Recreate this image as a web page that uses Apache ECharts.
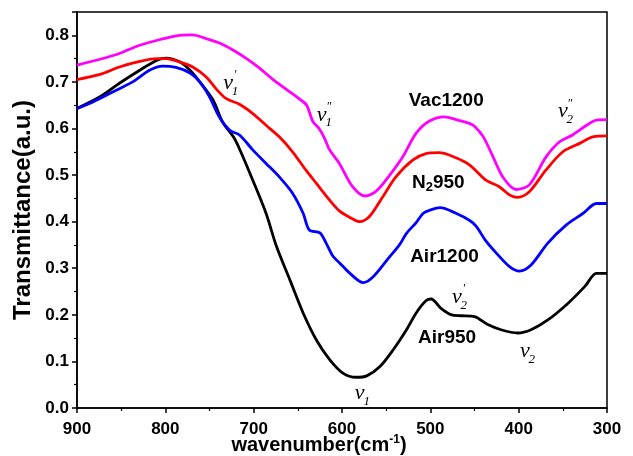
<!DOCTYPE html>
<html><head><meta charset="utf-8">
<script src="https://cdn.jsdelivr.net/npm/echarts@6/dist/echarts.min.js"></script>
<style>html,body{margin:0;padding:0;background:#fff}#c{width:633px;height:456px}</style>
</head><body><div id="c"></div>
<script>
// ---- data (wavenumber cm-1, transmittance a.u.) ----
const air950X = [900,874,852,829,810,799,784,772,761,746,735,723,716,701,686,674,659,644,629,614,599,584,572,557,542,527,516,505,499,488,476,465,450,435,420,401,386,367,344,325,312,300];
const air950Y = [0.643,0.668,0.697,0.725,0.746,0.751,0.743,0.725,0.700,0.661,0.613,0.582,0.556,0.489,0.418,0.346,0.275,0.204,0.146,0.104,0.075,0.066,0.069,0.089,0.125,0.168,0.204,0.230,0.234,0.214,0.200,0.198,0.196,0.179,0.168,0.161,0.168,0.189,0.225,0.261,0.289,0.289];

const air1200X = [900,882,859,837,818,803,788,772,761,750,739,727,716,701,686,671,656,644,637,625,618,610,603,591,576,565,548,535,527,516,508,500,489,471,455,448,438,425,410,399,386,367,346,327,312,300];
const air1200Y = [0.643,0.657,0.679,0.700,0.725,0.734,0.731,0.719,0.700,0.668,0.625,0.596,0.586,0.554,0.525,0.496,0.461,0.418,0.382,0.376,0.354,0.325,0.312,0.289,0.269,0.281,0.320,0.350,0.375,0.398,0.418,0.425,0.430,0.418,0.402,0.390,0.361,0.332,0.303,0.294,0.307,0.354,0.393,0.418,0.439,0.439];

const n2950X = [900,874,852,829,810,799,784,769,754,742,731,716,701,686,671,656,641,629,614,603,591,580,569,554,539,520,505,490,471,455,437,422,410,401,388,369,350,331,316,300];
const n2950Y = [0.705,0.716,0.732,0.744,0.750,0.750,0.743,0.732,0.711,0.684,0.664,0.652,0.632,0.607,0.582,0.550,0.511,0.482,0.446,0.423,0.409,0.400,0.411,0.453,0.496,0.532,0.546,0.548,0.537,0.521,0.489,0.475,0.457,0.452,0.464,0.511,0.550,0.568,0.582,0.584];

const vac1200X = [900,875,852,830,806,784,769,754,738,723,708,693,678,663,648,640,633,626,620,614,603,588,574,561,546,531,516,501,484,469,456,450,440,429,418,403,388,369,354,339,323,312,300];
const vac1200Y = [0.736,0.748,0.761,0.778,0.791,0.800,0.801,0.793,0.783,0.768,0.750,0.729,0.705,0.684,0.663,0.650,0.615,0.600,0.580,0.554,0.525,0.475,0.455,0.466,0.500,0.540,0.590,0.616,0.625,0.618,0.611,0.605,0.582,0.539,0.496,0.469,0.479,0.539,0.571,0.586,0.607,0.618,0.619];

const xTickLabels = [900,800,700,600,500,400,300];
const yTickLabels = ['0.0','0.1','0.2','0.3','0.4','0.5','0.6','0.7','0.8'];

// series labels: [text, wavenumber, transmittance]
const seriesLabels = [
  ['{b|Vac1200}', 482, 0.659],
  ['{b|N}{s|2}{b|950}', 491, 0.483],
  ['{b|Air1200}', 484, 0.325],
  ['{b|Air950}', 481, 0.150]
];
// band labels: [subscript, prime mark, wavenumber, transmittance]
const bandLabels = [
  ['1', '\u2032', 729, 0.697],
  ['1', '\u2033', 623, 0.629],
  ['2', '\u2033', 350, 0.636],
  ['2', '\u2032', 470, 0.238],
  ['1', '', 580, 0.032],
  ['2', '', 393, 0.121]
];

const zip = (xs, ys) => xs.map((x, i) => [x, ys[i]]);
const FF = '"Liberation Sans", Arial, sans-serif';
const SERIF = '"Liberation Serif", "Times New Roman", serif';

const chart = echarts.init(document.getElementById('c'), null, {renderer: 'canvas'});
const axisLine = {show: true, lineStyle: {color: '#000', width: 1.5}};
const mkLine = (name, xs, ys, color) => ({
  name, type: 'line', data: zip(xs, ys), showSymbol: false, smooth: 0.3,
  lineStyle: {color, width: 2.8}, itemStyle: {color}, xAxisIndex: 0, yAxisIndex: 0, z: 3
});

chart.setOption({
  animation: false,
  backgroundColor: '#fff',
  grid: {left: 77, right: 26, top: 12, bottom: 48, containLabel: false, outerBoundsMode: 'none',
    show: true, borderColor: '#000', borderWidth: 1.5, backgroundColor: 'transparent'},
  xAxis: {
    type: 'value', min: 300, max: 900, interval: 100, inverse: true, position: 'bottom',
    axisLine, splitLine: {show: false},
    axisTick: {show: true, inside: false, length: 5, lineStyle: {color: '#000', width: 1.5}},
    minorTick: {show: true, splitNumber: 2, length: 3, lineStyle: {color: '#000', width: 1.2}},
    minorSplitLine: {show: false},
    axisLabel: {color: '#000', fontWeight: 'bold', fontSize: 17, fontFamily: FF, margin: 13,
      formatter: v => xTickLabels.includes(v) ? String(v) : ''},
    name: '{a|wavenumber(cm}{s|-1}{a|)}', nameLocation: 'middle', nameGap: 26, nameMoveOverlap: false,
    nameTextStyle: {padding: [0, 46, 0, 0], rich: {
      a: {fontSize: 20, fontWeight: 'bold', fontFamily: FF, color: '#000', lineHeight: 22},
      s: {fontSize: 12, fontWeight: 'bold', fontFamily: FF, color: '#000', verticalAlign: 'top', lineHeight: 22, padding: [0, 0, 8, 0]}
    }}
  },
  yAxis: {
    type: 'value', min: 0, max: 0.85, interval: 0.1,
    axisLine, splitLine: {show: false},
    axisTick: {show: true, inside: false, length: 5, lineStyle: {color: '#000', width: 1.5}},
    minorTick: {show: true, splitNumber: 2, length: 3, lineStyle: {color: '#000', width: 1.2}},
    axisLabel: {color: '#000', fontWeight: 'bold', fontSize: 17, fontFamily: FF, margin: 8,
      formatter: v => { const s = v.toFixed(1); return (v < 0.81 && yTickLabels.includes(s)) ? s : ''; }},
    name: 'Transmittance(a.u.)', nameLocation: 'middle', nameGap: 42, nameMoveOverlap: false,
    nameTextStyle: {fontSize: 24, fontWeight: 'bold', fontFamily: FF, color: '#000'}
  },
  series: [
    mkLine('Air950', air950X, air950Y, '#000000'),
    mkLine('Air1200', air1200X, air1200Y, '#0000ff'),
    mkLine('N2950', n2950X, n2950Y, '#ff0000'),
    mkLine('Vac1200', vac1200X, vac1200Y, '#ff00ff')
  ]
});

const px = (w, v) => chart.convertToPixel({xAxisIndex: 0, yAxisIndex: 0}, [w, v]);
const graphics = [];
seriesLabels.forEach(([t, w, v]) => {
  const [x, y] = px(w, v);
  graphics.push({type: 'text', x, y, z: 10, style: {
    text: t, align: 'center', verticalAlign: 'middle',
    rich: {
      b: {fontSize: 19, fontWeight: 'bold', fontFamily: FF, fill: '#000', lineHeight: 22},
      s: {fontSize: 13, fontWeight: 'bold', fontFamily: FF, fill: '#000', verticalAlign: 'top', lineHeight: 22, padding: [9, 0, 0, 0]}
    }
  }});
});
bandLabels.forEach(([sub, pr, w, v]) => {
  const [x, y] = px(w, v);
  graphics.push({type: 'text', x, y, z: 10, style: {text: '\u03bd', align: 'center', verticalAlign: 'middle',
    font: 'italic 22px ' + SERIF, fill: '#000'}});
  graphics.push({type: 'text', x: x + 7, y: y + 8, z: 10, style: {text: sub, align: 'center', verticalAlign: 'middle',
    font: 'italic 13px ' + SERIF, fill: '#000'}});
  if (pr) graphics.push({type: 'text', x: x + 7, y: y - 8, z: 10, style: {text: pr, align: 'center', verticalAlign: 'middle',
    font: 'italic 12px ' + SERIF, fill: '#000'}});
});
chart.setOption({graphic: graphics});
</script></body></html>
